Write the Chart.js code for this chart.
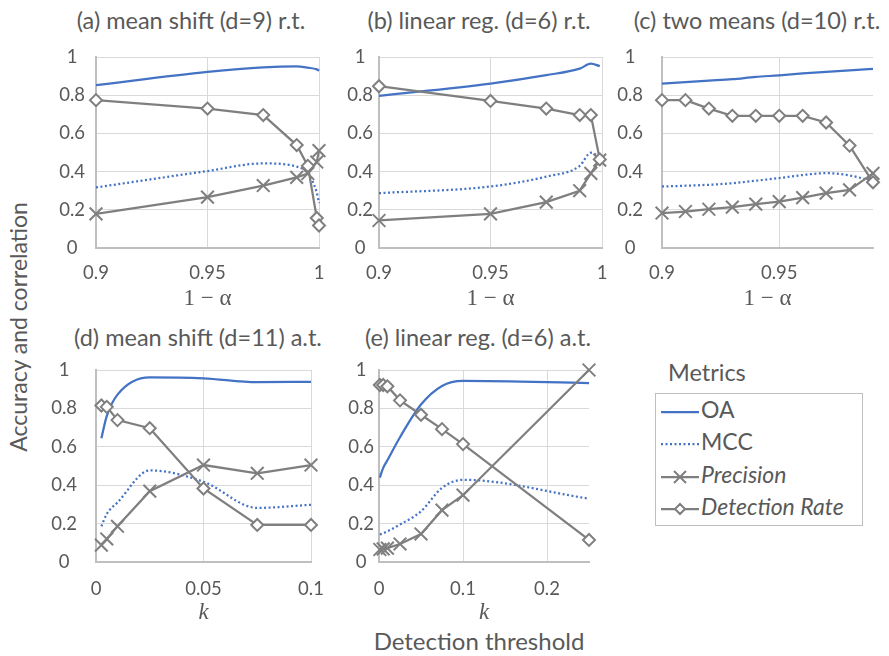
<!DOCTYPE html>
<html>
<head>
<meta charset="utf-8">
<script src="https://cdn.jsdelivr.net/npm/chart.js@4"></script>
<style>
  body { margin: 0; background: #fff; width: 889px; height: 656px; position: relative; overflow: hidden; font-family: Lato, sans-serif; color: #595959; }
  canvas { position: absolute; }
  .ttl { position: absolute; width: 320px; text-align: center; font-size: 23.5px; line-height: 28px; white-space: nowrap; }
  .lab { position: absolute; font-size: 23px; line-height: 28px; white-space: nowrap; }
  #legend { position: absolute; left: 655px; top: 393px; width: 206px; height: 131px; border: 1px solid #BFBFBF; }
  .row { position: absolute; left: 4px; height: 28px; font-size: 23px; line-height: 28px; white-space: nowrap; }
  .row svg { vertical-align: middle; margin-right: 1px; }
</style>
</head>
<body>

<div class="ttl" style="left:31px;top:6px">(a) mean shift (d=9) r.t.</div>
<div class="ttl" style="left:319px;top:6px">(b) linear reg. (d=6) r.t.</div>
<div class="ttl" style="left:597px;top:6px">(c) two means (d=10) r.t.</div>
<div class="ttl" style="left:38px;top:323px">(d) mean shift (d=11) a.t.</div>
<div class="ttl" style="left:318px;top:323px">(e) linear reg. (d=6) a.t.</div>

<div class="lab" style="left:18px;top:327px;transform:translate(-50%,-50%) rotate(-90deg)">Accuracy and correlation</div>
<div class="lab" style="left:479px;top:641px;transform:translate(-50%,-50%);font-size:24px">Detection threshold</div>
<div class="lab" style="left:668px;top:358px;font-size:23.5px">Metrics</div>

<div id="legend"></div>

<canvas id="pa" width="300" height="290" style="left:40px;top:30px"></canvas>
<canvas id="pb" width="290" height="290" style="left:330px;top:30px"></canvas>
<canvas id="pc" width="284" height="290" style="left:605px;top:30px"></canvas>
<canvas id="pd" width="290" height="300" style="left:40px;top:340px"></canvas>
<canvas id="pe" width="280" height="300" style="left:330px;top:340px"></canvas>

<script>
// (a) mean shift r.t.
const xA = [0.9, 0.95, 0.975, 0.99, 0.995, 0.999, 1.0];
const oaA = [0.853, 0.922, 0.946, 0.951, 0.944, 0.935, 0.928];
const mccA = [0.317, 0.403, 0.443, 0.426, 0.39, 0.29, 0.235];
const precA = [0.179, 0.266, 0.327, 0.37, 0.39, 0.45, 0.51];
const drA = [0.774, 0.73, 0.696, 0.539, 0.43, 0.157, 0.118];

// (b) linear reg. r.t.
const xB = [0.9, 0.95, 0.975, 0.99, 0.995, 0.999];
const oaB = [0.797, 0.861, 0.905, 0.939, 0.965, 0.952];
const mccB = [0.287, 0.322, 0.374, 0.43, 0.499, 0.478];
const precB = [0.144, 0.179, 0.24, 0.30, 0.391, 0.46];
const drB = [0.847, 0.77, 0.73, 0.696, 0.696, 0.464];

// (c) two means r.t.
const xC = [0.90, 0.91, 0.92, 0.93, 0.94, 0.95, 0.96, 0.97, 0.98, 0.99];
const oaC = [0.861, 0.868, 0.876, 0.884, 0.896, 0.904, 0.914, 0.922, 0.930, 0.938];
const mccC = [0.322, 0.326, 0.331, 0.339, 0.352, 0.366, 0.382, 0.392, 0.38, 0.35];
const precC = [0.183, 0.191, 0.203, 0.214, 0.23, 0.243, 0.264, 0.287, 0.304, 0.391];
const drC = [0.774, 0.774, 0.730, 0.692, 0.692, 0.692, 0.692, 0.657, 0.536, 0.344];

// (d) mean shift a.t.
const xD = [0.0025, 0.005, 0.01, 0.025, 0.05, 0.075, 0.1];
const oaD = [0.645, 0.76, 0.872, 0.962, 0.957, 0.937, 0.938];
const mccD = [0.186, 0.25, 0.31, 0.477, 0.418, 0.282, 0.298];
const precD = [0.088, 0.12, 0.186, 0.369, 0.505, 0.462, 0.505];
const drD = [0.815, 0.808, 0.739, 0.697, 0.383, 0.193, 0.193];

// (e) linear reg. a.t.
const xE = [0.001, 0.005, 0.01, 0.025, 0.05, 0.075, 0.1, 0.25];
const oaE = [0.44, 0.49, 0.53, 0.65, 0.82, 0.917, 0.943, 0.932];
const mccE = [0.143, 0.15, 0.16, 0.195, 0.264, 0.386, 0.428, 0.33];
const precE = [0.065, 0.068, 0.072, 0.094, 0.146, 0.27, 0.348, 1.0];
const drE = [0.922, 0.922, 0.915, 0.842, 0.767, 0.692, 0.614, 0.115];

// ticks
const yTicks = [0, 0.2, 0.4, 0.6, 0.8, 1];
const yLabels = ['0', '0.2', '0.4', '0.6', '0.8', '1'];
const tAB = [0.9, 0.95, 1];
const lAB = ['0.9', '0.95', '1'];
const tC = [0.9, 0.95];
const lC = ['0.9', '0.95'];
const tD = [0, 0.05, 0.1];
const lD = ['0', '0.05', '0.1'];
const tE = [0, 0.1, 0.2];
const lE = ['0', '0.1', '0.2'];

const BLUE = '#4472C4';
const GRAY = '#7F7F7F';
const TXT = '#595959';

function pts(xs, ys) {
    return xs.map((x, i) => ({x: x, y: ys[i]}));
}

function panel(id, o) {
    const datasets = [
        {label: 'OA', data: pts(o.x, o.oa), borderColor: BLUE, borderWidth: 2.25, pointRadius: 0, order: 3,
            cubicInterpolationMode: 'monotone'},
        {label: 'MCC', data: pts(o.x, o.mcc), borderColor: BLUE, borderWidth: 2.25, borderDash: [2, 2.5], pointRadius: 0, order: 2,
            cubicInterpolationMode: 'monotone'},
        {label: 'Precision', data: pts(o.x, o.prec), borderColor: GRAY, borderWidth: 2.25, tension: 0,
            pointStyle: 'crossRot', pointRadius: 9, pointBorderWidth: 2, pointBorderColor: GRAY, order: 1},
        {label: 'Detection Rate', data: pts(o.x, o.dr), borderColor: GRAY, borderWidth: 2.25, tension: 0,
            pointStyle: 'rectRot', pointRadius: 6, pointBorderWidth: 2, pointBorderColor: GRAY,
            pointBackgroundColor: '#fff', order: 0}
    ];
    datasets.forEach(d => { d.clip = false; d.fill = false; });

    new Chart(document.getElementById(id), {
        type: 'line',
        data: {datasets: datasets},
        options: {
            responsive: false,
            animation: false,
            layout: {padding: {top: o.padTop, right: o.padRight, bottom: 0, left: 0}},
            plugins: {legend: {display: false}, tooltip: {enabled: false}},
            scales: {
                x: {
                    type: 'linear', min: o.xmin, max: o.xmax,
                    afterBuildTicks: s => { s.ticks = o.ticks.map(v => ({value: v})); },
                    afterFit: s => { s.height = o.xh; s.paddingLeft = 0; s.paddingRight = 0; },
                    ticks: {font: {family: 'Lato', size: 18.5}, color: TXT, padding: o.xtp, maxRotation: 0,
                        callback: (v, i) => o.labels[i]},
                    grid: {color: '#D9D9D9', drawTicks: false},
                    border: {color: '#BFBFBF', width: 2},
                    title: {display: true, text: o.xtitle, color: TXT,
                        font: {family: 'Liberation Serif', size: 23, style: o.italic ? 'italic' : 'normal'},
                        padding: {top: 0, bottom: o.xtb}}
                },
                y: {
                    min: 0, max: 1,
                    afterBuildTicks: s => { s.ticks = yTicks.map(v => ({value: v})); },
                    afterFit: s => { s.width = o.yw; s.paddingTop = 0; s.paddingBottom = 0; },
                    ticks: {font: {family: 'Lato', size: 18.5}, color: TXT, crossAlign: 'center', padding: o.ytp,
                        callback: (v, i) => yLabels[i]},
                    grid: {color: '#D9D9D9', drawTicks: false},
                    border: {color: '#BFBFBF', width: 2}
                }
            }
        }
    });
}

panel('pa', {x: xA, oa: oaA, mcc: mccA, prec: precA, dr: drA, xmin: 0.9, xmax: 1, ticks: tAB, labels: lAB,
    xtitle: '1 − α', italic: false, padTop: 27, padRight: 21, xh: 72, xtp: 14, xtb: 7, yw: 56, ytp: 11});
panel('pb', {x: xB, oa: oaB, mcc: mccB, prec: precB, dr: drB, xmin: 0.9, xmax: 1, ticks: tAB, labels: lAB,
    xtitle: '1 − α', italic: false, padTop: 27, padRight: 18, xh: 72, xtp: 14, xtb: 7, yw: 49, ytp: 6});
panel('pc', {x: xC, oa: oaC, mcc: mccC, prec: precC, dr: drC, xmin: 0.9, xmax: 0.99, ticks: tC, labels: lC,
    xtitle: '1 − α', italic: false, padTop: 27, padRight: 16, xh: 72, xtp: 14, xtb: 7, yw: 57, ytp: 19});
panel('pd', {x: xD, oa: oaD, mcc: mccD, prec: precD, dr: drD, xmin: 0, xmax: 0.1, ticks: tD, labels: lD,
    xtitle: 'k', italic: true, padTop: 30, padRight: 19, xh: 78, xtp: 16, xtb: 13, yw: 56, ytp: 19});
panel('pe', {x: xE, oa: oaE, mcc: mccE, prec: precE, dr: drE, xmin: 0, xmax: 0.25, ticks: tE, labels: lE,
    xtitle: 'k', italic: true, padTop: 30, padRight: 21, xh: 78, xtp: 16, xtb: 13, yw: 49, ytp: 5});

// legend
const legendItems = [
    {name: 'OA', dash: '', marker: '', italic: false},
    {name: 'MCC', dash: '2 2.5', marker: '', italic: false},
    {name: 'Precision', dash: '', marker: 'x', italic: true},
    {name: 'Detection Rate', dash: '', marker: 'd', italic: true}
];
const legendY = [1, 33, 66, 98];
const lg = document.getElementById('legend');
legendItems.forEach((it, i) => {
    const col = it.marker ? GRAY : BLUE;
    let m = '';
    if (it.marker === 'x') m = `<path d="M14 4 L26 16 M26 4 L14 16" stroke="${col}" stroke-width="2"/>`;
    if (it.marker === 'd') m = `<path d="M20 5 L25 10 L20 15 L15 10 Z" fill="#fff" stroke="${col}" stroke-width="2"/>`;
    const row = document.createElement('div');
    row.className = 'row';
    row.style.top = legendY[i] + 'px';
    row.innerHTML = `<svg width="40" height="20"><line x1="1" y1="10" x2="39" y2="10" stroke="${col}" stroke-width="2.25"` +
        (it.dash ? ` stroke-dasharray="${it.dash}"` : '') + `/>${m}</svg>` +
        `<span style="${it.italic ? 'font-style:italic' : ''}">${it.name}</span>`;
    lg.appendChild(row);
});
</script>
</body>
</html>
